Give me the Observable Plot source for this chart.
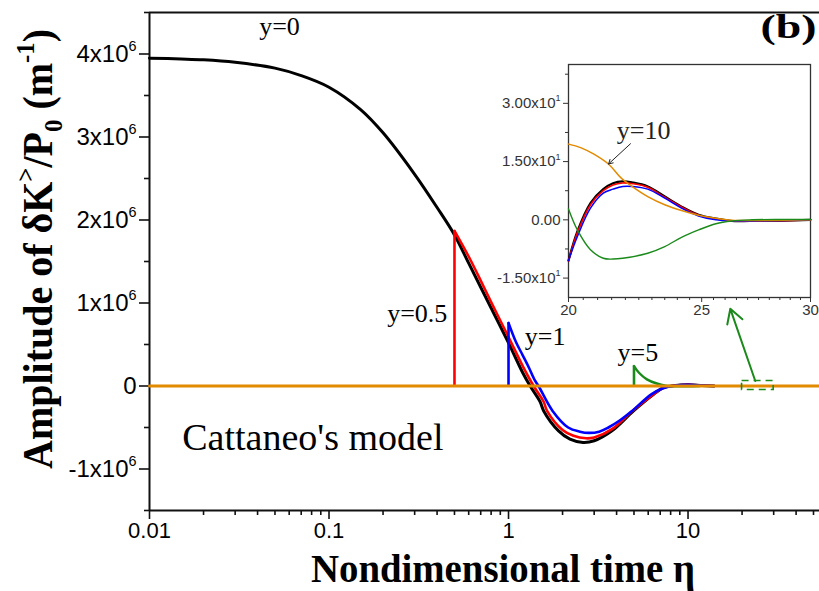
<!DOCTYPE html>
<html><head><meta charset="utf-8">
<script src="https://cdn.jsdelivr.net/npm/d3@7"></script>
<script src="https://cdn.jsdelivr.net/npm/@observablehq/plot@0.6"></script>
<style>
body{margin:0;background:#fff;}
#wrap{position:relative;width:819px;height:591px;overflow:hidden;background:#fff;}
#inset{position:absolute;left:480px;top:50px;}
#inset svg{background:transparent !important;}
</style></head><body><div id="wrap"><div id="main"></div><div id="inset"></div></div>
<script>
// ---------- main plot data (eta = nondimensional time, amp = amplitude) ----------
const etaY0 = [0.01,0.015,0.02,0.03,0.05,0.07,0.1,0.15,0.2,0.3,0.4,0.5,0.6,0.7,0.8,1.0,1.2,1.32,1.5,1.57,1.9,2.2,2.6,3.0,3.77,4.97,6.43,7.3,8.5,10,12,14];
const ampY0 = [3.95e6,3.94e6,3.93e6,3.90e6,3.83e6,3.74e6,3.60e6,3.33e6,3.05e6,2.55e6,2.15e6,1.82e6,1.48e6,1.19e6,0.94e6,0.52e6,0.16e6,0,-0.19e6,-0.30e6,-0.54e6,-0.64e6,-0.68e6,-0.66e6,-0.54e6,-0.30e6,-0.10e6,-0.02e6,0.006e6,0.014e6,0.006e6,0];

const etaY05 = [0.5,0.6,0.7,0.8,1.0,1.2,1.38,1.57,1.64,2.0,2.3,2.7,3.0,3.77,4.97,6.43,7.3,8.5,10,12,14];
const ampY05 = [1.87e6,1.56e6,1.27e6,1.01e6,0.59e6,0.24e6,0,-0.19e6,-0.30e6,-0.53e6,-0.60e6,-0.63e6,-0.62e6,-0.52e6,-0.29e6,-0.10e6,-0.02e6,0.006e6,0.014e6,0.006e6,0];

const etaY1 = [1.0,1.1,1.2,1.3,1.4,1.47,1.76,2.15,2.5,2.8,3.2,3.6,4.2,4.88,6.24,7.2,8.5,10,12,14];
const ampY1 = [0.76e6,0.53e6,0.37e6,0.22e6,0.07e6,0,-0.30e6,-0.50e6,-0.55e6,-0.565e6,-0.55e6,-0.50e6,-0.41e6,-0.30e6,-0.10e6,-0.03e6,0.006e6,0.014e6,0.006e6,0];

const etaY5 = [5.0,5.33,5.9,6.7,7.5,8.5,10,11.6];
const ampY5 = [0.24e6,0.16e6,0.08e6,0.03e6,0.005e6,-0.004e6,-0.004e6,0];

const etaY10 = [0.01,54];
const ampY10 = [0,0];

// jumps (onset of each curve)
const jumpEta = [0.5,1,5];
const jumpAmp = [1.87e6,0.76e6,0.24e6];
const jumpColor = ["#ff0000","#0000ff","#1a8a1a"];

// tick labels
const xMajor = [0.01,0.1,1,10];
const xMajorLabels = ["0.01","0.1","1","10"];
const xMinor = [0.02,0.03,0.04,0.05,0.06,0.07,0.08,0.09,0.2,0.3,0.4,0.5,0.6,0.7,0.8,0.9,2,3,4,5,6,7,8,9,20,30,40,50];
const yMajor = [-1e6,0,1e6,2e6,3e6,4e6];
const yMajorLabels = ["-1x10^6","0","1x10^6","2x10^6","3x10^6","4x10^6"];
const yMinor = [-1.5e6,-0.5e6,0.5e6,1.5e6,2.5e6,3.5e6,4.5e6];

// annotations
const annText = ["y=0","y=0.5","y=1","y=5"];
const annEta = [0.053,0.31,1.6,5.25];
const annAmp = [4.33e6,0.87e6,0.60e6,0.40e6];
const modelText = ["Cattaneo's model"];
const modelEta = [0.0813];
const modelAmp = [-0.63e6];
const panelText = ["(b)"];
const panelEta = [52];
const panelAmp = [4.32e6];
const zoomBox = [{x1:20,x2:30,y1:-0.048e6,y2:0.06e6}];
const zoomArrow = [{x1:23.7,y1:0.06e6,x2:17.2,y2:0.93e6}];

// ---------- inset data ----------
const insEtaBlack = [20,20.3,20.75,21.2,21.55,21.9,22.27,22.84,23.5,24.17,24.87,25.6,26.3,27.1,28.6,30];
const insBlack = [-10.5,-3,4.3,7.9,9.4,9.9,9.6,8.6,6.0,3.4,1.3,0.3,-0.3,-0.3,-0.2,0];
const insEtaRed = [20,20.3,20.75,21.2,21.55,21.9,22.27,22.84,23.5,24.17,24.87,25.6,26.3,27.1,28.6,30];
const insRed = [-10.6,-3.3,3.9,7.5,9.0,9.5,9.3,8.4,5.8,3.3,1.2,0.3,-0.3,-0.3,-0.2,0];
const insEtaBlue = [20,20.3,20.75,21.2,21.55,21.9,22.27,22.84,23.5,24.17,24.87,25.6,26.3,27.1,28.6,30];
const insBlue = [-10.5,-4.3,3.0,6.9,7.9,8.6,8.6,7.9,5.6,3.0,1.0,0,-0.3,-0.3,-0.2,0];
const insEtaOrange = [20,20.41,20.87,21.41,21.84,22.27,22.84,23.5,24.17,24.87,25.6,26.3,27.1,28.6,30];
const insOrange = [19.5,18.6,16.9,14.2,10.8,8.5,6.0,3.9,2.4,1.2,0.4,-0.1,-0.2,-0.1,0];
const insEtaGreen = [20,20.3,20.75,21.2,21.55,21.9,22.84,23.5,24.17,24.87,25.6,26.3,27.1,28.6,30];
const insGreen = [2.8,-2.6,-7.7,-9.9,-10.1,-9.9,-8.6,-6.9,-4.5,-2.6,-1.0,-0.3,0,0.1,0.1];

const insXMajor = [20,25,30];
const insXLabels = ["20","25","30"];
const insXMinor = [20.5,21,21.5,22,22.5,23,23.5,24,24.5,25.5,26,26.5,27,27.5,28,28.5,29,29.5];
const insYMajor = [-15,0,15,30];
const insYLabels = ["-1.50x10^1","0.00","1.50x10^1","3.00x10^1"];
const insYMinor = [-7.5,7.5,22.5,37.5];
const insLabel = [{x:22.68,y:23,text:"y=10"}];
const insArrow = [{x1:22.19,y1:19.6,x2:21.39,y2:14.4}];

// ---------- helpers ----------
const rows = (xs, ys) => xs.map((x,i)=>({x, y: ys[i]}));
const GREEN = "#1a8a1a", ORANGE = "#e28a00";
const SANS = "Liberation Sans, Arial, sans-serif";
const SERIF = "Liberation Serif, Times New Roman, serif";
const xLab = new Map(xMajor.map((d,i)=>[d,xMajorLabels[i]]));
const yLab = new Map(yMajor.map((d,i)=>[d,yMajorLabels[i]]));

const main = Plot.plot({
  width: 819, height: 591,
  marginLeft: 149, marginRight: 0, marginTop: 12, marginBottom: 81,
  x: {type: "log", domain: [0.01, 54]},
  y: {domain: [-1.5e6, 4.5e6]},
  style: {background: "white", overflow: "visible"},
  marks: [
    Plot.axisX({ticks: xMinor, tickSize: 5, fill: "none", stroke: "#111", strokeWidth: 1.6, label: null}),
    Plot.axisX({ticks: xMajor, tickSize: 9, tickPadding: 3, tickFormat: d => xLab.get(d), stroke: "#111", strokeWidth: 1.6,
      fill: "#000", fontSize: 22, fontFamily: SANS, label: null}),
    Plot.axisY({ticks: yMinor, tickSize: 5, fill: "none", stroke: "#111", strokeWidth: 1.6, label: null}),
    Plot.axisY({ticks: yMajor, tickSize: 10, tickPadding: 3, tickFormat: d => yLab.get(d), stroke: "#111", strokeWidth: 1.6,
      fill: "#000", fontSize: 24, fontFamily: SANS, label: null}),
    Plot.ruleX([0.01], {stroke: "#111", strokeWidth: 2}),
    Plot.ruleY([4.5e6], {stroke: "#111", strokeWidth: 2}),
    Plot.ruleY([-1.5e6], {stroke: "#111", strokeWidth: 2}),
    Plot.line(rows(etaY0, ampY0), {x: "x", y: "y", stroke: "#000", strokeWidth: 3, curve: "catmull-rom"}),
    Plot.line(rows(etaY05, ampY05), {x: "x", y: "y", stroke: "#ff0000", strokeWidth: 2.6, curve: "catmull-rom"}),
    Plot.line(rows(etaY1, ampY1), {x: "x", y: "y", stroke: "#0000ff", strokeWidth: 2.6, curve: "catmull-rom"}),
    Plot.line(rows(etaY5, ampY5), {x: "x", y: "y", stroke: GREEN, strokeWidth: 2.4, curve: "catmull-rom"}),
    Plot.ruleX(jumpEta.map((e,i)=>({e, a: jumpAmp[i], c: jumpColor[i]})), {x: "e", y1: 0, y2: "a", stroke: "c", strokeWidth: 2.6}),
    Plot.line(rows(etaY10, ampY10), {x: "x", y: "y", stroke: ORANGE, strokeWidth: 3}),
    Plot.rect(zoomBox, {x1: "x1", x2: "x2", y1: "y1", y2: "y2", fill: "none", stroke: GREEN, strokeWidth: 1.6, strokeDasharray: "7,5"}),
    Plot.arrow(zoomArrow, {x1: "x1", y1: "y1", x2: "x2", y2: "y2", stroke: GREEN, strokeWidth: 2, headLength: 12}),
    Plot.text(annText.map((t,i)=>({t, x: annEta[i], y: annAmp[i]})), {x: "x", y: "y", text: "t", fontSize: 26, fontFamily: SERIF, fill: "#000"}),
    Plot.text(modelText.map((t,i)=>({t, x: modelEta[i], y: modelAmp[i]})), {x: "x", y: "y", text: "t", fontSize: 38, fontFamily: SERIF, fill: "#000"}),
    Plot.text(panelText.map((t,i)=>({t, x: panelEta[i], y: panelAmp[i]})), {x: "x", y: "y", text: "t", fontSize: 34, fontWeight: "bold", fontFamily: SERIF, textAnchor: "end", fill: "#000"})
  ]
});
document.getElementById("main").appendChild(main);

const iyLab = new Map(insYMajor.map((d,i)=>[d,insYLabels[i]]));
const ixLab = new Map(insXMajor.map((d,i)=>[d,insXLabels[i]]));
const inset = Plot.plot({
  width: 339, height: 300,
  marginLeft: 88, marginRight: 9, marginTop: 14, marginBottom: 53,
  x: {type: "log", domain: [20, 30]},
  y: {domain: [-20, 40]},
  style: {background: "transparent", overflow: "visible"},
  marks: [
    Plot.axisX({ticks: insXMinor, tickSize: 3, fill: "none", stroke: "#333", label: null}),
    Plot.axisX({ticks: insXMajor, tickSize: 5, tickPadding: 2, tickFormat: d => ixLab.get(d), stroke: "#333", fill: "#333",
      fontSize: 15, fontFamily: SANS, label: null}),
    Plot.axisY({ticks: insYMinor, tickSize: 3, fill: "none", stroke: "#333", label: null}),
    Plot.axisY({ticks: insYMajor, tickSize: 5, tickPadding: 3, tickFormat: d => iyLab.get(d), stroke: "#333", fill: "#333",
      fontSize: 15, fontFamily: SANS, label: null}),
    Plot.frame({stroke: "#333", strokeWidth: 1.3}),
    Plot.line(rows(insEtaBlack, insBlack), {x: "x", y: "y", stroke: "#000", strokeWidth: 2.2, curve: "catmull-rom"}),
    Plot.line(rows(insEtaRed, insRed), {x: "x", y: "y", stroke: "#ff0000", strokeWidth: 1.6, curve: "catmull-rom"}),
    Plot.line(rows(insEtaBlue, insBlue), {x: "x", y: "y", stroke: "#0000ff", strokeWidth: 1.5, curve: "catmull-rom"}),
    Plot.line(rows(insEtaOrange, insOrange), {x: "x", y: "y", stroke: ORANGE, strokeWidth: 1.5, curve: "catmull-rom"}),
    Plot.line(rows(insEtaGreen, insGreen), {x: "x", y: "y", stroke: GREEN, strokeWidth: 1.4, curve: "catmull-rom"}),
    Plot.text(insLabel, {x: "x", y: "y", text: "text", fontSize: 26, fontFamily: SERIF, fill: "#222"}),
    Plot.arrow(insArrow, {x1: "x1", y1: "y1", x2: "x2", y2: "y2", stroke: "#222", strokeWidth: 1, headLength: 7})
  ]
});
document.getElementById("inset").appendChild(inset);

// superscripts in tick labels: "a^b"
function sup(svg) {
  svg.querySelectorAll("text").forEach(t => {
    const s = t.textContent;
    if (!s.includes("^")) return;
    const [base, ex] = s.split("^");
    while (t.firstChild) t.removeChild(t.firstChild);
    const a = document.createElementNS("http://www.w3.org/2000/svg", "tspan");
    a.textContent = base;
    const b = document.createElementNS("http://www.w3.org/2000/svg", "tspan");
    b.textContent = ex;
    b.setAttribute("font-size", "60%");
    b.setAttribute("dy", "-0.75em");
    t.appendChild(a); t.appendChild(b);
  });
}
sup(main); sup(inset);

const svg = d3.select(main);
svg.selectAll("text").filter(function(){ return this.textContent === "(b)"; })
  .attr("textLength", 56).attr("lengthAdjust", "spacingAndGlyphs");

// axis titles
const yl = svg.append("text")
  .attr("transform", "translate(52,249) rotate(-90)")
  .attr("text-anchor", "middle")
  .attr("font-family", SERIF).attr("font-weight", "bold").attr("font-size", 42)
  .attr("fill", "#000")
  .attr("textLength", 440).attr("lengthAdjust", "spacingAndGlyphs");
yl.append("tspan").text("Amplitude of δK");
yl.append("tspan").attr("font-size", 26).attr("dy", -18).text(">");
yl.append("tspan").attr("dy", 18).text("/P");
yl.append("tspan").attr("font-size", 26).attr("dy", 10).text("0");
yl.append("tspan").attr("dy", -10).text(" (m");
yl.append("tspan").attr("font-size", 26).attr("dy", -18).text("-1");
yl.append("tspan").attr("dy", 18).text(")");

svg.append("text")
  .attr("x", 503).attr("y", 582)
  .attr("text-anchor", "middle")
  .attr("font-family", SERIF).attr("font-weight", "bold").attr("font-size", 40)
  .attr("fill", "#000")
  .attr("textLength", 384).attr("lengthAdjust", "spacingAndGlyphs")
  .text("Nondimensional time η");
</script>
</body></html>
